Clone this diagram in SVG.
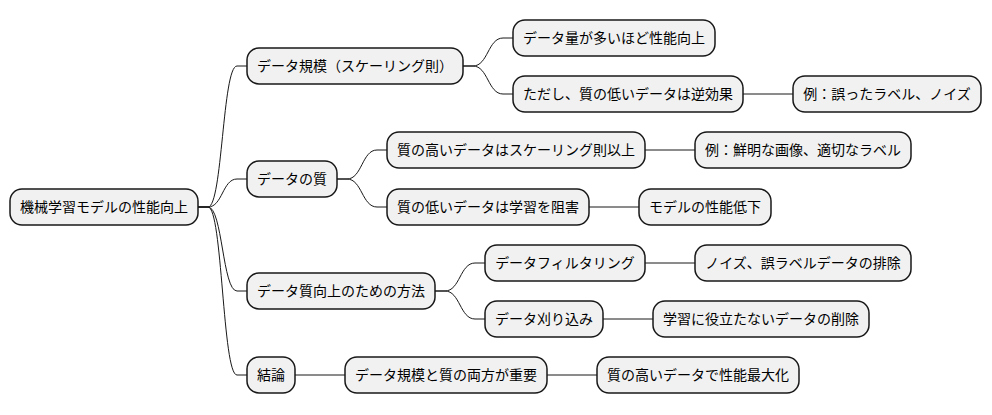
<svg xmlns="http://www.w3.org/2000/svg" width="992" height="415" viewBox="0 0 992 415">
<style>
.n rect{fill:#F1F1F1;stroke:#181818;stroke-width:1.5}
.n text{font-family:"Noto Sans CJK JP","Noto Sans",sans-serif;font-size:14px;fill:#000;text-anchor:middle}
#links path{fill:none;stroke:#181818;stroke-width:1}
</style>
<rect width="992" height="415" fill="#FFFFFF"/>
<g id="links">
<path d="M198,207 L208,207 C222.5,207 222.5,66 237,66 L247,66"/>
<path d="M198,207 L208,207 C222.5,207 222.5,179 237,179 L247,179"/>
<path d="M198,207 L208,207 C222.5,207 222.5,291 237,291 L247,291"/>
<path d="M198,207 L208,207 C222.5,207 222.5,375 237,375 L247,375"/>
<path d="M463,66 L473,66 C488,66 488,38 503,38 L513,38"/>
<path d="M463,66 L473,66 C488,66 488,94 503,94 L513,94"/>
<path d="M337,179 L347,179 C362,179 362,150 377,150 L387,150"/>
<path d="M337,179 L347,179 C362,179 362,207 377,207 L387,207"/>
<path d="M435,291 L445,291 C460,291 460,263 475,263 L485,263"/>
<path d="M435,291 L445,291 C460,291 460,319 475,319 L485,319"/>
<path d="M295,375 L345,375"/>
<path d="M743,94 L793,94"/>
<path d="M645,150 L695,150"/>
<path d="M589,207 L639,207"/>
<path d="M645,263 L695,263"/>
<path d="M603,319 L653,319"/>
<path d="M547,375 L597,375"/>
</g>
<g id="root" class="n"><rect x="10" y="189" width="188" height="36" rx="12"/><text x="104" y="212">機械学習モデルの性能向上</text></g>
<g id="scale" class="n"><rect x="247" y="48" width="216" height="36" rx="12"/><text x="355" y="71">データ規模（スケーリング則）</text></g>
<g id="quality" class="n"><rect x="247" y="161" width="90" height="36" rx="12"/><text x="292" y="184">データの質</text></g>
<g id="methods" class="n"><rect x="247" y="273" width="188" height="36" rx="12"/><text x="341" y="296">データ質向上のための方法</text></g>
<g id="conclusion" class="n"><rect x="247" y="357" width="48" height="36" rx="12"/><text x="271" y="380">結論</text></g>
<g id="a1" class="n"><rect x="513" y="20" width="202" height="36" rx="12"/><text x="614" y="43">データ量が多いほど性能向上</text></g>
<g id="a2" class="n"><rect x="513" y="76" width="230" height="36" rx="12"/><text x="628" y="99">ただし、質の低いデータは逆効果</text></g>
<g id="a2a" class="n"><rect x="793" y="76" width="188" height="36" rx="12"/><text x="887" y="99">例：誤ったラベル、ノイズ</text></g>
<g id="b1" class="n"><rect x="387" y="132" width="258" height="36" rx="12"/><text x="516" y="155">質の高いデータはスケーリング則以上</text></g>
<g id="b1a" class="n"><rect x="695" y="132" width="216" height="36" rx="12"/><text x="803" y="155">例：鮮明な画像、適切なラベル</text></g>
<g id="b2" class="n"><rect x="387" y="189" width="202" height="36" rx="12"/><text x="488" y="212">質の低いデータは学習を阻害</text></g>
<g id="b2a" class="n"><rect x="639" y="189" width="132" height="36" rx="12"/><text x="705" y="212">モデルの性能低下</text></g>
<g id="c1" class="n"><rect x="485" y="245" width="160" height="36" rx="12"/><text x="565" y="268">データフィルタリング</text></g>
<g id="c1a" class="n"><rect x="695" y="245" width="216" height="36" rx="12"/><text x="803" y="268">ノイズ、誤ラベルデータの排除</text></g>
<g id="c2" class="n"><rect x="485" y="301" width="118" height="36" rx="12"/><text x="544" y="324">データ刈り込み</text></g>
<g id="c2a" class="n"><rect x="653" y="301" width="216" height="36" rx="12"/><text x="761" y="324">学習に役立たないデータの削除</text></g>
<g id="d1" class="n"><rect x="345" y="357" width="202" height="36" rx="12"/><text x="446" y="380">データ規模と質の両方が重要</text></g>
<g id="d1a" class="n"><rect x="597" y="357" width="202" height="36" rx="12"/><text x="698" y="380">質の高いデータで性能最大化</text></g>
</svg>
